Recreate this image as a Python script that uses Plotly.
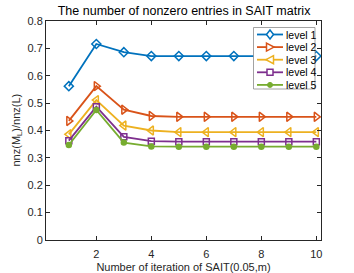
import plotly.graph_objects as go

iterations = [1, 2, 3, 4, 5, 6, 7, 8, 9, 10]
level1 = [0.562, 0.716, 0.686, 0.672, 0.672, 0.672, 0.672, 0.672, 0.672, 0.672]
level2 = [0.435, 0.562, 0.476, 0.453, 0.450, 0.450, 0.450, 0.450, 0.450, 0.450]
level3 = [0.386, 0.511, 0.418, 0.400, 0.394, 0.394, 0.394, 0.394, 0.394, 0.394]
level4 = [0.363, 0.487, 0.377, 0.361, 0.359, 0.359, 0.359, 0.359, 0.359, 0.359]
level5 = [0.347, 0.475, 0.356, 0.342, 0.341, 0.341, 0.341, 0.341, 0.341, 0.341]
names = ["level 1", "level 2", "level 3", "level 4", "level 5"]
colors = ["#0072BD", "#D95319", "#EDB120", "#7E2F8E", "#77AC30"]
symbols = ["diamond-open", "triangle-right-open", "triangle-left-open", "square-open", "circle"]
sizes = [7, 8, 8, 6, 5]

FONT = "Liberation Sans, Arial"
W, H = 354, 273
ML, MR, MT, MB = 46, 33, 21, 33
PW, PH = W - ML - MR, H - MT - MB


def fx(px):
    return (px - ML) / PW


def fy(py):
    return (H - MB - py) / PH


def glyph_path(kind, cx, cy):
    """Legend glyph outline in paper coordinates, built from pixel offsets."""
    if kind == "diamond-open":
        pts = [(0, -4.5), (3.5, 0), (0, 4.5), (-3.5, 0)]
    elif kind == "triangle-right-open":
        pts = [(-3.5, -4), (4, 0), (-3.5, 4)]
    elif kind == "triangle-left-open":
        pts = [(3.5, -4), (-4, 0), (3.5, 4)]
    elif kind == "square-open":
        pts = [(-3, -3), (3, -3), (3, 3), (-3, 3)]
    else:
        return None
    return "M " + " L ".join(f"{fx(cx + dx):.5f},{fy(cy + dy):.5f}" for dx, dy in pts) + " Z"


fig = go.Figure()
for name, ys, c, s, sz in zip(names, [level1, level2, level3, level4, level5], colors, symbols, sizes):
    fig.add_trace(go.Scatter(
        x=iterations, y=ys, name=name, mode="lines+markers", showlegend=False,
        line=dict(color=c, width=1.8),
        marker=dict(symbol=s, size=sz, color=c, line=dict(color=c, width=1.5)),
    ))

# custom compact legend (MATLAB style)
shapes = [dict(type="rect", xref="paper", yref="paper",
               x0=fx(253.5), x1=fx(315), y0=fy(89), y1=fy(27.5),
               line=dict(color="#8c8c8c", width=0.8), fillcolor="white", layer="above")]
annotations = []
for i, (name, c, s) in enumerate(zip(names, colors, symbols)):
    cy = 34.5 + 12.6 * i
    yc = fy(cy)
    shapes.append(dict(type="line", xref="paper", yref="paper",
                       x0=fx(257), x1=fx(283), y0=yc, y1=yc,
                       line=dict(color=c, width=1.8), layer="above"))
    p = glyph_path(s, 270, cy)
    if p is not None:
        shapes.append(dict(type="path", xref="paper", yref="paper", path=p,
                           line=dict(color=c, width=1.5), fillcolor="white", layer="above"))
    else:
        shapes.append(dict(type="circle", xref="paper", yref="paper",
                           x0=fx(267.5), x1=fx(272.5), y0=fy(cy + 2.5), y1=fy(cy - 2.5),
                           line=dict(color=c, width=1), fillcolor=c, layer="above"))
    annotations.append(dict(xref="paper", yref="paper", x=fx(284), y=yc,
                            xanchor="left", yanchor="middle", showarrow=False,
                            text=name, font=dict(family=FONT, size=10.5, color="black")))

# y-axis title placed like MATLAB's
annotations.append(dict(xref="paper", yref="paper", x=fx(16), y=0.5,
                        xanchor="center", yanchor="middle", showarrow=False, textangle=-90,
                        text="nnz(M<sub>L</sub>)/nnz(L)",
                        font=dict(family=FONT, size=11, color="#262626")))

axis_common = dict(
    showgrid=False, zeroline=False, showline=True, linecolor="#262626", linewidth=1,
    mirror="ticks", ticks="inside", ticklen=4, tickcolor="#262626", automargin=False,
    tickfont=dict(family=FONT, size=11, color="#262626"),
)

fig.update_layout(
    width=W, height=H,
    margin=dict(l=ML, r=MR, t=MT, b=MB, autoexpand=False),
    paper_bgcolor="white", plot_bgcolor="white",
    title=dict(text="The number of nonzero entries in SAIT matrix",
               x=0.52, xanchor="center", y=1 - 11 / H, yanchor="middle",
               font=dict(family=FONT, size=12.5, color="black")),
    xaxis=dict(range=[0.17, 10.17], tickvals=[2, 4, 6, 8, 10], ticklabelstandoff=4,
               title=dict(text="Number of iteration of SAIT(0.05,m)",
                          font=dict(family=FONT, size=11, color="#262626")),
               **axis_common),
    yaxis=dict(range=[0, 0.8], tickvals=[0, 0.1, 0.2, 0.3, 0.4, 0.5, 0.6, 0.7, 0.8],
               ticktext=["0", "0.1", "0.2", "0.3", "0.4", "0.5", "0.6", "0.7", "0.8"],
               **axis_common),
    shapes=shapes,
    annotations=annotations,
    showlegend=False,
)

fig.write_html("out.html", config={"displayModeBar": False},
               post_script="document.body.style.margin='0px';")
